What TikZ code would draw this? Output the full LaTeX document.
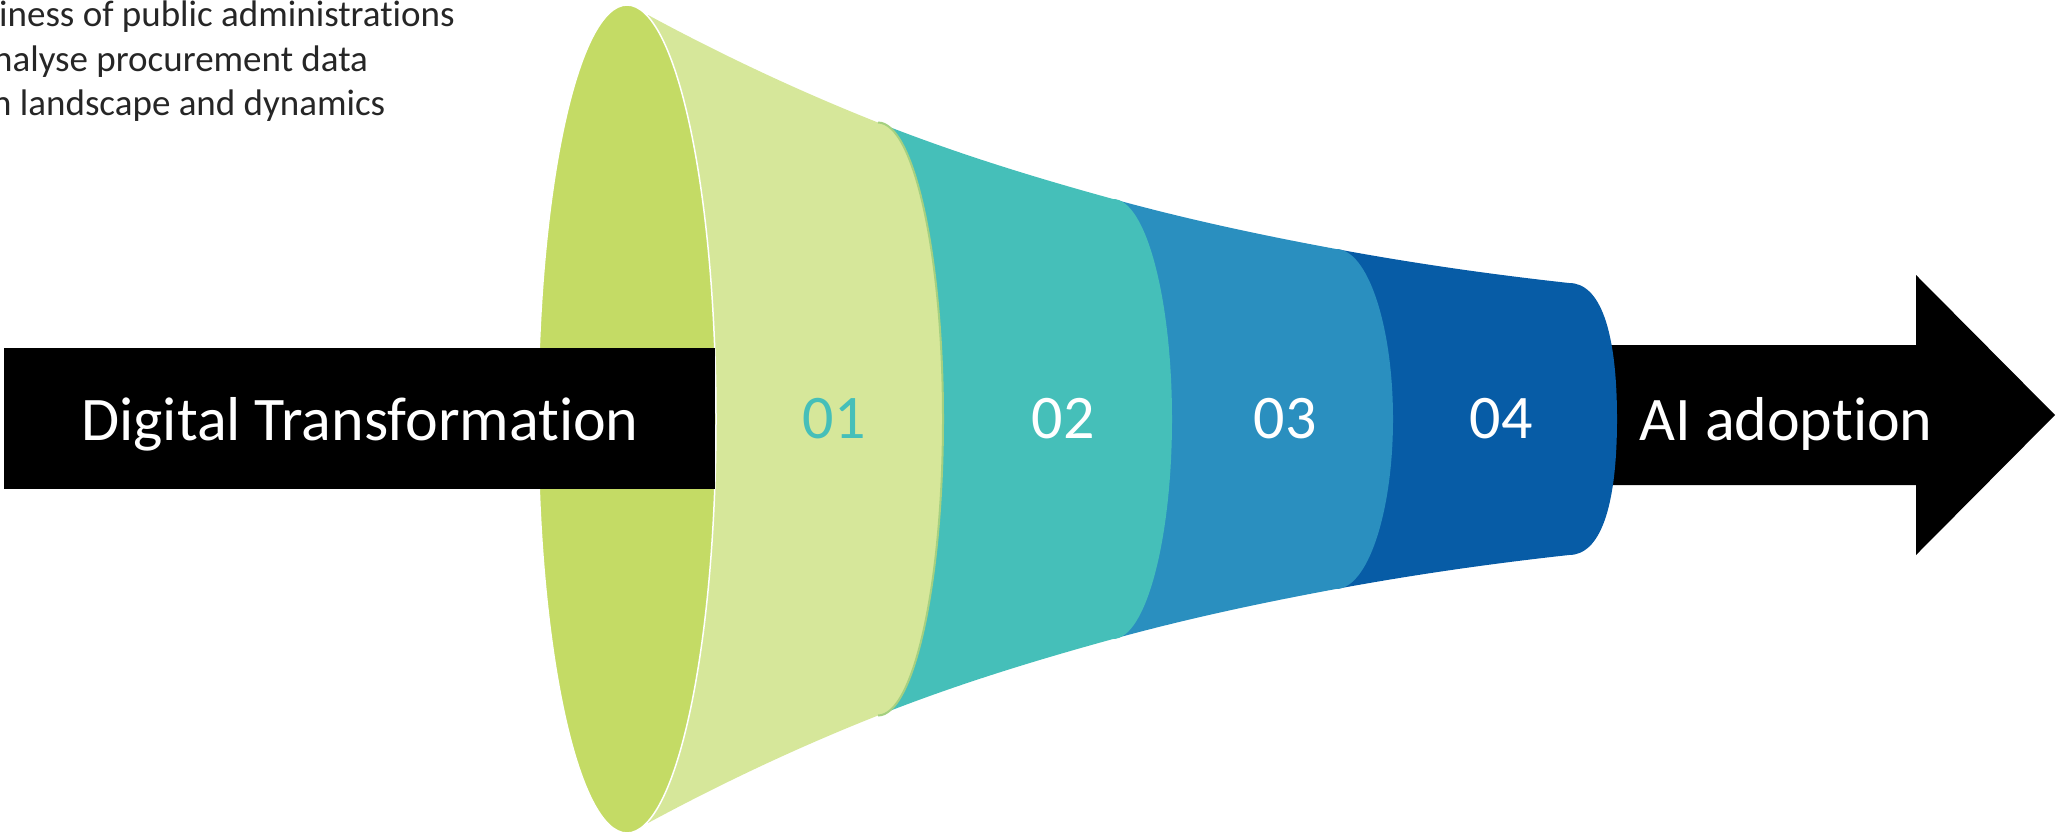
\documentclass[tikz,border=0pt]{standalone}
\usepackage{fontspec}
\setmainfont{Carlito}[Ligatures=NoCommon,RawFeature={-liga;-dlig}]
\definecolor{limeC}{RGB}{196,219,101}
\definecolor{paleC}{RGB}{214,231,154}
\definecolor{paleEdge}{RGB}{165,208,128}
\definecolor{tealC}{RGB}{69,191,185}
\definecolor{blueC}{RGB}{42,143,191}
\definecolor{navyC}{RGB}{7,92,166}
\begin{document}
\begin{tikzpicture}[x=1pt,y=-1pt,
  bigtext/.style={font=\fontsize{62}{74}\selectfont, text=white, inner sep=0pt},
  numtext/.style={font=\fontsize{62}{74}\selectfont, text=white, inner sep=0pt, anchor=base},
  note/.style={font=\fontsize{37}{44}\selectfont, text=black!85, anchor=base west, inner sep=0pt}]
\useasboundingbox (0,0) rectangle (2056,835);
\clip (0,0) rectangle (2056,835);

% right arrow (behind the funnel)
\fill[black] (1560,345) -- (1916,345) -- (1916,275) -- (2055,415) -- (1916,555) -- (1916,485) -- (1560,485) -- cycle;

% band 04
\fill[navyC] (1336,249) .. controls (1413.67,263.37) and (1491.33,274.46) .. (1569,283)
  .. controls (1600,283) and (1617,330) .. (1617,419)
  .. controls (1617,508) and (1600,555) .. (1569,555)
  .. controls (1491.33,563.54) and (1413.67,574.63) .. (1336,589) -- cycle;
% band 03
\fill[blueC] (1113,199) .. controls (1187.33,219.44) and (1261.67,235.25) .. (1336,249)
  .. controls (1367.5,249) and (1393,325.1) .. (1393,419)
  .. controls (1393,512.9) and (1367.5,589) .. (1336,589)
  .. controls (1261.67,602.75) and (1187.33,618.56) .. (1113,639) -- cycle;
% band 02
\fill[tealC] (878,122.5) .. controls (956.33,153.52) and (1034.67,177.46) .. (1113,199)
  .. controls (1145.6,199) and (1172,297.5) .. (1172,419)
  .. controls (1172,540.5) and (1145.6,639) .. (1113,639)
  .. controls (1034.67,660.54) and (956.33,684.48) .. (878,715.5) -- cycle;
% band 01
\fill[paleC] (648,15) .. controls (724.67,56.4) and (801.33,92.14) .. (878,122.5)
  .. controls (913.9,122.5) and (943,255.25) .. (943,419)
  .. controls (943,582.75) and (913.9,715.5) .. (878,715.5)
  .. controls (801.33,745.86) and (724.67,781.6) .. (648,823) -- cycle;
\draw[paleEdge, line width=2pt] (878,122.5) .. controls (913.9,122.5) and (943,255.25) .. (943,419)
  .. controls (943,582.75) and (913.9,715.5) .. (878,715.5);

% mouth of the funnel
\filldraw[fill=limeC, draw=white, line width=1.5pt] (627,419) ellipse [x radius=89, y radius=414];

% left bar
\fill[black] (4,348) rectangle (715,489);
\node[bigtext, anchor=base] (dt) at (360,440) {Digital Transformation};
\node[bigtext, anchor=base] (ai) at (1786,440) {AI adoption};

% band numbers
\node[numtext, text=tealC] (n1) at (834,438) {01};
\node[numtext] (n2) at (1063,438) {02};
\node[numtext] (n3) at (1285,438) {03};
\node[numtext] (n4) at (1501,438) {04};

% notes (cut off at the left edge)
\node[note] (l1) at (-1,27) {iness of public administrations};
\node[note] (l2) at (-7,71) {nalyse procurement data};
\node[note] (l3) at (-8,115) {h landscape and dynamics};
\end{tikzpicture}
\end{document}
